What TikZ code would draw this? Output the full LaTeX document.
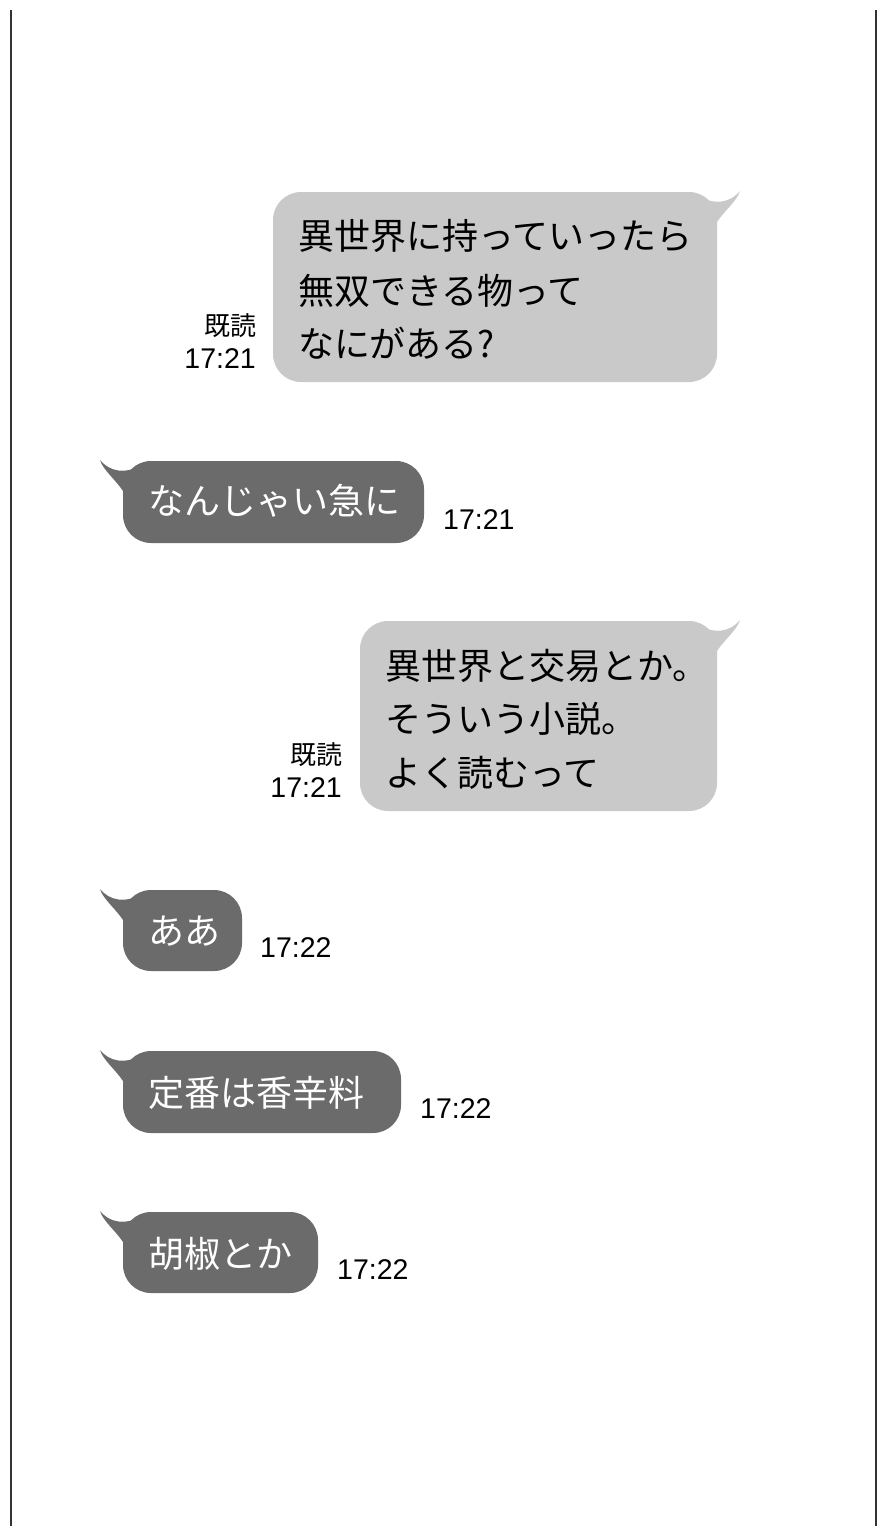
\documentclass[tikz,border=0pt]{standalone}
\usepackage{fontspec}
\setmainfont{Noto Sans CJK JP}
\newfontfamily\tsfont{Liberation Sans}
\definecolor{lightb}{HTML}{C9C9C9}
\definecolor{darkb}{HTML}{6B6B6B}
\definecolor{edge}{HTML}{333333}
\tikzset{
  msg/.style={font=\fontsize{36}{40}\selectfont, inner sep=0pt, anchor=base west},
  kidoku/.style={font=\fontsize{26}{28}\selectfont, inner sep=0pt, anchor=base east},
  ts/.style={font=\tsfont\fontsize{28.5}{30}\selectfont, inner sep=0pt},
  lbub/.style={fill=lightb, rounded corners=28pt},
  dbub/.style={fill=darkb, rounded corners=28pt},
}
\newcommand{\tailpath}{(-22,2) .. controls (-2,15) and (14,10) .. (23,-1) .. controls (20,9) and (8,18) .. (0,30) -- (-22,30) -- cycle}
\begin{document}
\begin{tikzpicture}[x=1pt,y=-1pt]
\useasboundingbox (0,0) rectangle (886,1536);
\draw[edge, line width=1.6pt] (11,10) -- (11,1526);
\draw[edge, line width=1.6pt] (876,10) -- (876,1526);

% bubble 1
\fill[lbub] (273,192) rectangle (717,382);
\fill[lightb, shift={(717,192)}] \tailpath;
\node[msg] (m1a) at (298,249) {異世界に持っていったら};
\node[msg] (m1b) at (298,304) {無双できる物って};
\node[msg] (m1c) at (298,357) {なにがある?};
\node[kidoku] (r1) at (257,335) {既読};
\node[ts, anchor=base east] (t1) at (256,368) {17:21};

% bubble 2
\fill[dbub] (123,461) rectangle (424,543);
\fill[darkb, shift={(123,461)}, xscale=-1] \tailpath;
\node[msg, text=white] (m2) at (148,514) {なんじゃい急に};
\node[ts, anchor=base west] (t2) at (443,529) {17:21};

% bubble 3
\fill[lbub] (360,621) rectangle (717,811);
\fill[lightb, shift={(717,621)}] \tailpath;
\node[msg] (m3a) at (385,679) {異世界と交易とか。};
\node[msg] (m3b) at (385,732) {そういう小説。};
\node[msg] (m3c) at (385,786) {よく読むって};
\node[kidoku] (r3) at (343,764) {既読};
\node[ts, anchor=base east] (t3) at (342,797) {17:21};

% bubble 4
\fill[dbub] (123,890) rectangle (242,971);
\fill[darkb, shift={(123,890)}, xscale=-1] \tailpath;
\node[msg, text=white] (m4) at (148,944) {ああ};
\node[ts, anchor=base west] (t4) at (260,957) {17:22};

% bubble 5
\fill[dbub] (123,1051) rectangle (401,1133);
\fill[darkb, shift={(123,1051)}, xscale=-1] \tailpath;
\node[msg, text=white] (m5) at (148,1106) {定番は香辛料};
\node[ts, anchor=base west] (t5) at (420,1118) {17:22};

% bubble 6
\fill[dbub] (123,1212) rectangle (318,1293);
\fill[darkb, shift={(123,1212)}, xscale=-1] \tailpath;
\node[msg, text=white] (m6) at (148,1267) {胡椒とか};
\node[ts, anchor=base west] (t6) at (337,1279) {17:22};
\end{tikzpicture}
\end{document}
